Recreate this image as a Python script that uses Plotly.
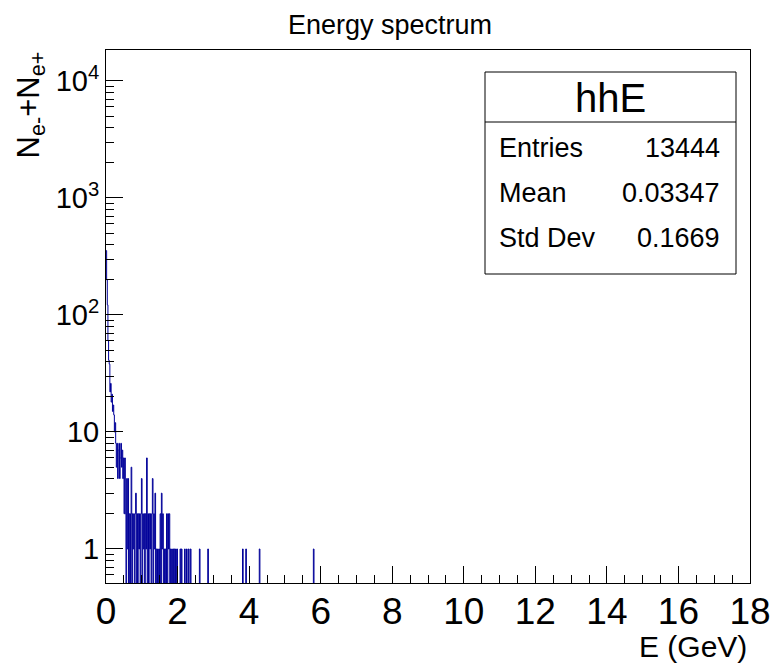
import numpy as np
import plotly.graph_objects as go

# ---------------- data ----------------
n_bins = 1000
x_min, x_max = 0.0, 18.0

# counts of the first bins (dense low-energy part of the spectrum)
dense_counts = [355, 200, 122, 60, 41, 38, 22, 26, 18, 21,
                15, 17, 14, 10, 12, 8, 5, 8, 4, 7,
                8, 4, 6, 8, 5, 7, 4, 6, 2, 6,
                2, 0, 4, 1, 4, 0, 2, 0, 2, 5,
                0, 2, 1, 2, 0, 2, 3, 0, 2, 0,
                2, 1, 2, 0, 2, 4, 0, 2, 1, 2,
                0, 2, 1, 6, 0, 2, 0, 2, 1, 2,
                0, 2, 4, 0, 2, 1, 3, 0, 1, 0,
                1, 0, 1, 0, 2, 0, 3, 1, 2, 0,
                1, 0, 1, 0, 2, 0, 2, 1, 2, 0,
                1, 0, 1, 0, 1, 0, 1, 0, 1, 0,
                1, 0, 0, 0, 0, 1, 0, 1, 0, 0,
                0, 0, 1, 0, 0, 1, 0, 0, 1, 0,
                0, 1]
# isolated single entries at higher energy (GeV)
sparse_energy = [2.61, 2.85, 3.83, 3.92, 4.30, 5.80]
sparse_counts = [1, 1, 1, 1, 1, 1]

x_tick_vals = list(range(0, 19, 2))
y_tick_vals = [1, 10, 100, 1000, 10000]
y_tick_text = ["1", "10", "10<sup>2</sup>", "10<sup>3</sup>", "10<sup>4</sup>"]

stats_name = "hhE"
stats_labels = ["Entries", "Mean", "Std Dev"]
stats_values = ["13444", "0.03347", "0.1669"]

title_text = "Energy spectrum"
x_title = "E (GeV)"
y_title = "N<sub>e-</sub>+N<sub>e+</sub>"

# ---------------- build histogram ----------------
width = (x_max - x_min) / n_bins
counts = np.zeros(n_bins)
counts[:len(dense_counts)] = dense_counts
for e, c in zip(sparse_energy, sparse_counts):
    counts[int((e - x_min) / width)] += c
edges = x_min + width * np.arange(n_bins + 1)
yplot = np.where(counts > 0, counts, 1e-3)
ystep = list(yplot) + [yplot[-1]]

FONT = "Liberation Sans, Arial, Helvetica, sans-serif"
BLUE = "#000099"

fig = go.Figure()
fig.add_trace(go.Scatter(x=edges, y=ystep, mode="lines", line_shape="hv",
                         line=dict(color=BLUE, width=1), hoverinfo="skip"))

# frame geometry in pixels
L, R, T, B = 106, 750, 50, 583
W, H = 776, 664
def px(x):
    return (x - L) / (R - L)
def py(y):
    return (B - y) / (B - T)

minor_y = []
for k in range(-1, 5):
    for m in range(2, 10):
        v = m * 10 ** k
        if 0.5 < v < 18000:
            minor_y.append(v)

fig.update_layout(
    width=W, height=H,
    margin=dict(l=L, r=W - R, t=T, b=H - B),
    paper_bgcolor="white", plot_bgcolor="white",
    showlegend=False,
    font=dict(family=FONT, color="black"),
    xaxis=dict(range=[x_min, x_max], tickmode="array", tickvals=x_tick_vals,
               automargin=False, ticklabelstandoff=-4,
               ticks="inside", ticklen=17, tickwidth=1, tickcolor="black",
               showline=True, linecolor="black", linewidth=1, mirror=True,
               showgrid=False, zeroline=False,
               tickfont=dict(size=37, family=FONT),
               minor=dict(tickmode="linear", tick0=0, dtick=0.5, ticks="inside",
                          ticklen=8, tickwidth=1, tickcolor="black", showgrid=False)),
    yaxis=dict(type="log", range=[np.log10(0.512), np.log10(18400)],
               automargin=False,
               tickmode="array", tickvals=y_tick_vals, ticktext=y_tick_text,
               ticks="inside", ticklen=17, tickwidth=1, tickcolor="black",
               showline=True, linecolor="black", linewidth=1, mirror=True,
               showgrid=False, zeroline=False,
               tickfont=dict(size=29, family=FONT),
               minor=dict(tickmode="array", tickvals=minor_y, ticks="inside",
                          ticklen=8, tickwidth=1, tickcolor="black", showgrid=False)),
)

ann = []
# title
ann.append(dict(text=title_text, x=px(389.5), y=py(25), xref="paper", yref="paper",
                xanchor="center", yanchor="middle", showarrow=False,
                font=dict(size=27, family=FONT)))
# x title
ann.append(dict(text=x_title, x=px(749), y=py(646), xref="paper", yref="paper",
                xanchor="right", yanchor="middle", showarrow=False,
                font=dict(size=30, family=FONT)))
# y title
ann.append(dict(text=y_title, x=px(30), y=py(50), xref="paper", yref="paper",
                xanchor="center", yanchor="top", textangle=-90, showarrow=False,
                font=dict(size=31, family=FONT)))

# stats box
bx0, bx1, by0, by1, bdiv = 485, 736, 72, 274, 122
shapes = [
    dict(type="rect", xref="paper", yref="paper", x0=px(bx0), x1=px(bx1),
         y0=py(by1), y1=py(by0), line=dict(color="black", width=1),
         fillcolor="white", layer="above"),
    dict(type="line", xref="paper", yref="paper", x0=px(bx0), x1=px(bx1),
         y0=py(bdiv), y1=py(bdiv), line=dict(color="black", width=1), layer="above"),
]
ann.append(dict(text=stats_name, x=px((bx0 + bx1) / 2), y=py(98), xref="paper", yref="paper",
                xanchor="center", yanchor="middle", showarrow=False,
                font=dict(size=40, family=FONT)))
row_y = [148, 193, 238]
for lab, val, yy in zip(stats_labels, stats_values, row_y):
    ann.append(dict(text=lab, x=px(497), y=py(yy), xref="paper", yref="paper",
                    xanchor="left", yanchor="middle", showarrow=False,
                    font=dict(size=27, family=FONT)))
    ann.append(dict(text=val, x=px(722), y=py(yy), xref="paper", yref="paper",
                    xanchor="right", yanchor="middle", showarrow=False,
                    font=dict(size=27, family=FONT)))

fig.update_layout(annotations=ann, shapes=shapes)
fig.write_html("out.html")
